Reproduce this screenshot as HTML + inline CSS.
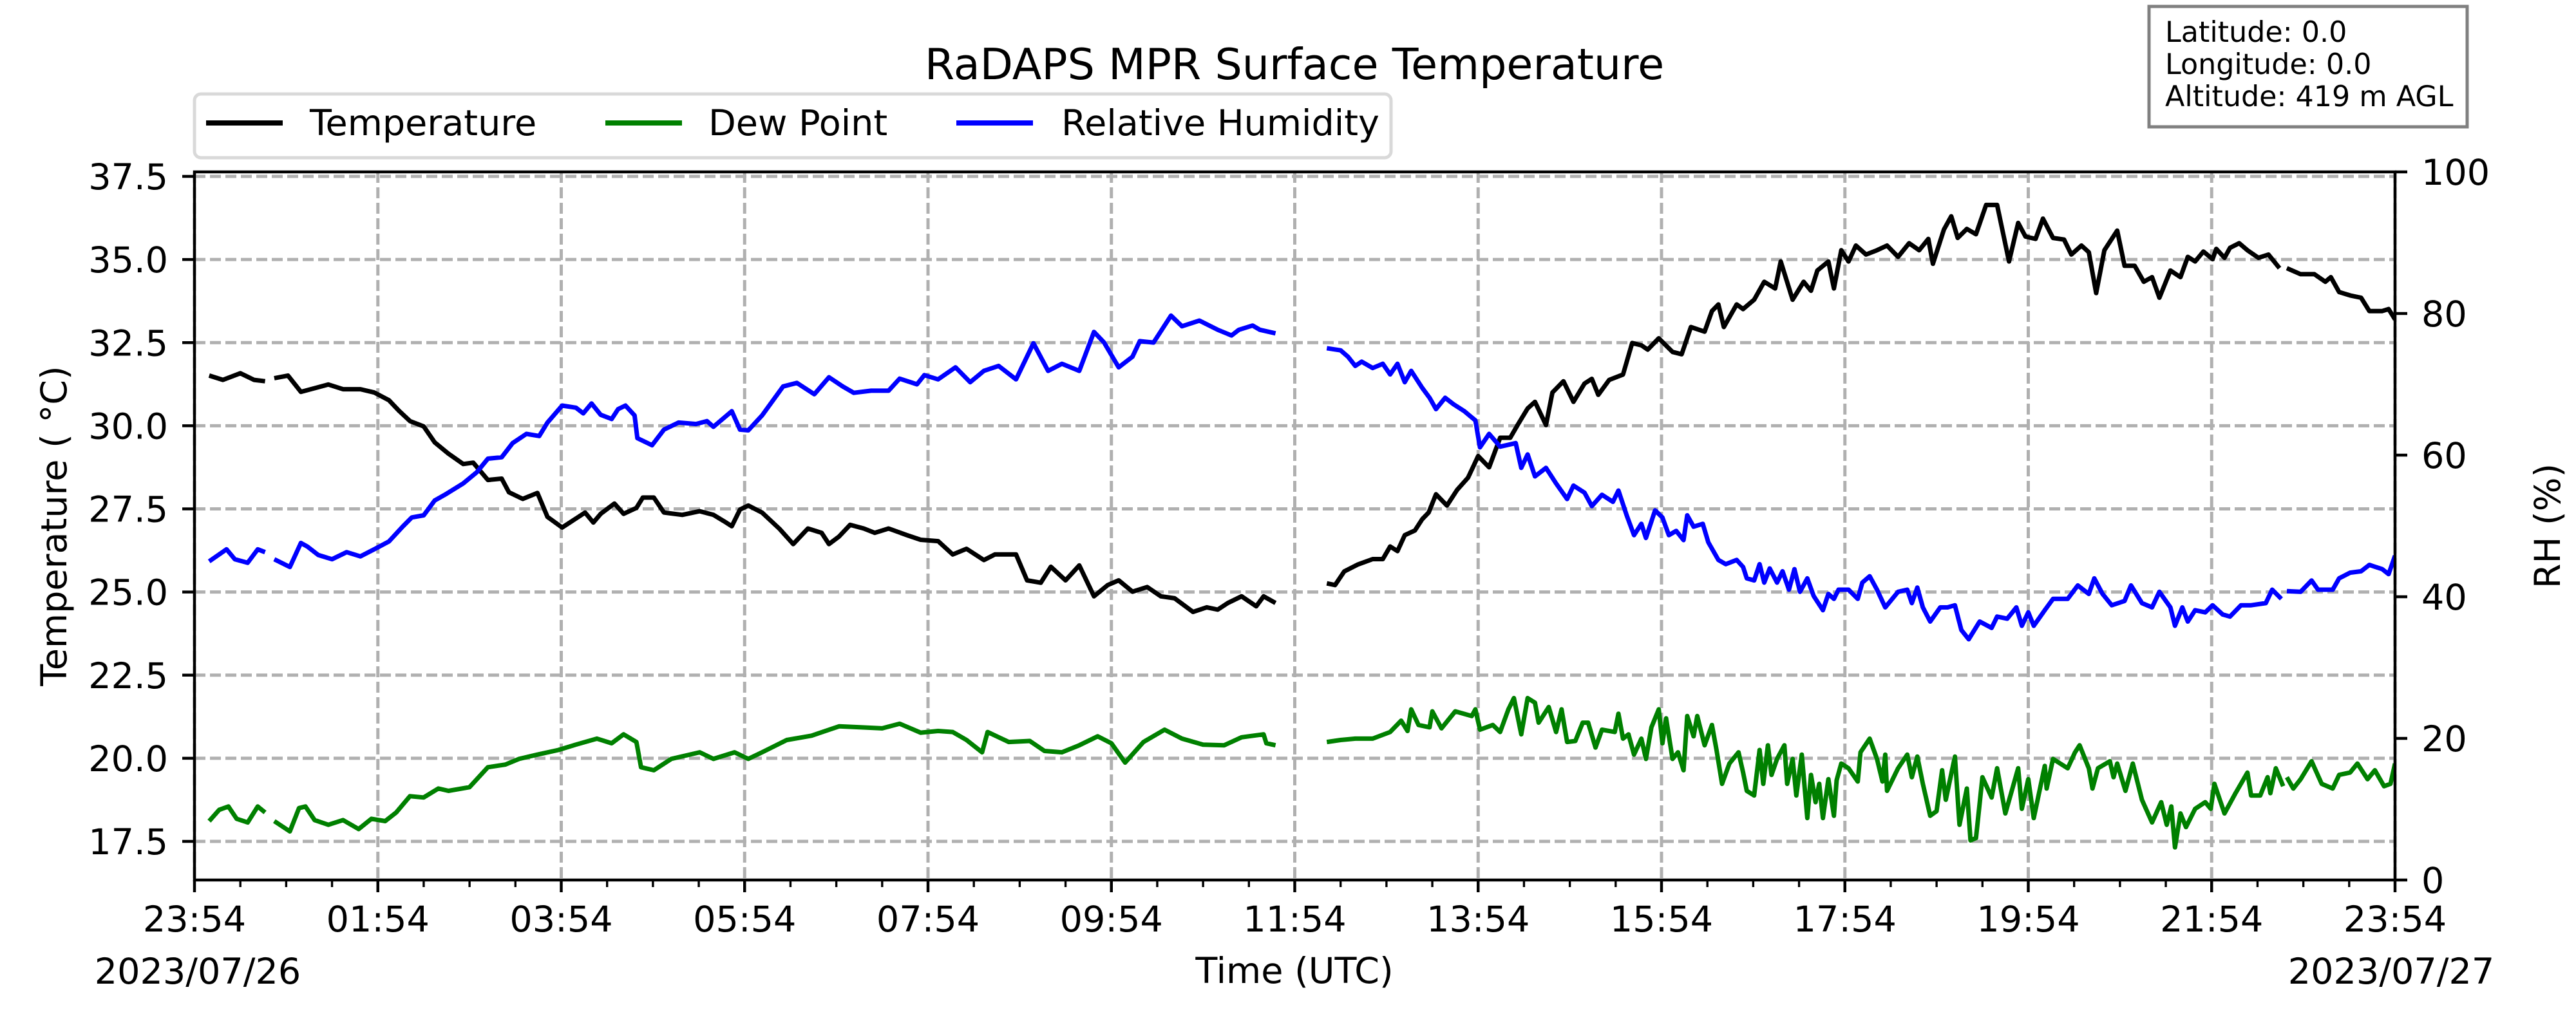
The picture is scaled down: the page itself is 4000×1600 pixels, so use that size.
<!DOCTYPE html>
<html><head><meta charset="utf-8"><title>RaDAPS MPR Surface Temperature</title>
<style>
html,body{margin:0;padding:0;background:#fff;}
svg{display:block;}
text{font-family:"DejaVu Sans","Liberation Sans",sans-serif;fill:#000;}
</style></head>
<body>
<svg id="chart" xmlns="http://www.w3.org/2000/svg" width="4000" height="1600" viewBox="0 0 4000 1600">
<rect x="0" y="0" width="4000" height="1600" fill="#fff"/>
<g id="grid"></g>
<g id="series"></g>
<g id="axes"></g>
<text x="2010" y="123" font-size="66.7" text-anchor="middle">RaDAPS MPR Surface Temperature</text>
<g>
  <rect x="302" y="146" width="1858" height="99" rx="10" fill="#fff" stroke="#d9d9d9" stroke-width="5"/>
  <g>
    <line x1="320" y1="191" x2="439" y2="191" stroke="#000" stroke-width="8"/>
    <text x="481" y="210" font-size="55.6">Temperature</text>
  </g>
  <g>
    <line x1="940" y1="191" x2="1059" y2="191" stroke="#008000" stroke-width="8"/>
    <text x="1100" y="210" font-size="55.6">Dew Point</text>
  </g>
  <g>
    <line x1="1485" y1="191" x2="1604" y2="191" stroke="#0000ff" stroke-width="8"/>
    <text x="1648" y="210" font-size="55.6">Relative Humidity</text>
  </g>
</g>
<g>
  <rect x="3337" y="10" width="494" height="187" fill="#fff" stroke="#808080" stroke-width="5"/>
  <text x="3362" y="65" font-size="44.4">Latitude: 0.0</text>
  <text x="3362" y="115" font-size="44.4">Longitude: 0.0</text>
  <text x="3362" y="165" font-size="44.4">Altitude: 419 m AGL</text>
</g>
<text transform="translate(103,817) rotate(-90)" font-size="55.6" text-anchor="middle">Temperature ( °C)</text>
<text transform="translate(3975,817) rotate(-90)" font-size="55.6" text-anchor="middle">RH (%)</text>
<text x="2010" y="1527" font-size="55.6" text-anchor="middle">Time (UTC)</text>
<text x="307" y="1528" font-size="55.6" text-anchor="middle">2023/07/26</text>
<text x="3713" y="1528" font-size="55.6" text-anchor="middle">2023/07/27</text>
</svg>
<script>
// ---- data (hours since 23:54 UTC 2023/07/26; null = data gap) ----
const tempTimes = [0.16,0.31,0.50,0.65,0.77,null,0.87,1.02,1.16,1.35,1.46,1.62,1.81,1.96,2.12,2.23,2.35,2.50,2.62,2.77,2.93,3.04,3.20,3.35,3.43,3.58,3.74,3.85,4.01,4.16,4.26,4.35,4.43,4.58,4.68,4.82,4.89,5.01,5.12,5.32,5.51,5.66,5.78,5.86,5.95,6.04,
6.19,6.38,6.53,6.69,6.84,6.92,7.03,7.15,7.30,7.42,7.57,7.77,7.92,8.11,8.27,8.42,8.61,8.73,8.96,9.08,9.23,9.34,9.50,9.65,9.81,9.96,10.08,10.23,10.39,10.54,10.69,10.89,11.04,11.16,11.27,11.42,11.58,11.66,11.79,null,
12.35,12.44,12.54,12.69,12.85,12.96,13.04,13.12,13.20,13.31,13.39,13.46,13.54,13.66,13.77,13.89,14.00,14.12,14.24,14.35,14.43,14.54,14.62,14.74,14.81,14.93,15.04,15.16,15.24,15.31,15.43,15.58,15.68,15.78,15.85,15.97,16.12,16.22,16.32,16.47,16.55,16.62,16.68,16.82,16.89,17.01,17.12,17.24,17.30,17.43,17.55,17.63,17.70,17.82,17.88,17.96,
18.04,18.12,18.23,18.35,18.46,18.58,18.70,18.81,18.91,18.96,19.08,19.16,19.23,19.33,19.43,19.54,19.66,19.79,19.89,19.97,20.08,20.16,20.27,20.39,20.47,20.58,20.66,20.74,20.83,20.97,21.05,21.16,21.26,21.35,21.43,21.55,21.66,21.74,21.82,21.91,22.01,22.05,22.14,22.20,22.30,22.39,22.51,22.62,22.74,null,22.82,22.97,23.12,23.24,23.30,23.39,23.51,23.63,23.72,23.86,23.93,24.00];
const tempValues = [31.51,31.38,31.58,31.38,31.34,null,31.43,31.51,31.02,31.16,31.24,31.10,31.10,31.00,30.77,30.45,30.14,29.98,29.50,29.16,28.85,28.89,28.37,28.41,28.00,27.80,27.98,27.26,26.94,27.21,27.39,27.09,27.35,27.66,27.35,27.53,27.84,27.84,27.39,27.32,27.43,27.32,27.12,26.98,27.48,27.60,
27.39,26.90,26.44,26.91,26.78,26.44,26.67,27.02,26.91,26.78,26.91,26.71,26.57,26.53,26.13,26.30,25.96,26.13,26.13,25.35,25.28,25.76,25.35,25.80,24.87,25.21,25.35,25.01,25.15,24.87,24.81,24.40,24.54,24.47,24.67,24.87,24.57,24.87,24.67,null,
25.26,25.21,25.62,25.83,25.99,25.99,26.37,26.23,26.71,26.85,27.19,27.39,27.94,27.60,28.07,28.44,29.09,28.75,29.64,29.64,30.02,30.52,30.72,30.02,31.00,31.34,30.72,31.27,31.41,30.93,31.38,31.54,32.49,32.42,32.29,32.63,32.22,32.15,32.97,32.83,33.45,33.65,32.97,33.65,33.51,33.79,34.33,34.13,34.94,33.79,34.33,34.06,34.67,34.94,34.13,35.28,
34.94,35.42,35.15,35.28,35.42,35.08,35.49,35.28,35.62,34.87,35.90,36.30,35.65,35.92,35.76,36.64,36.64,34.94,36.10,35.69,35.62,36.23,35.65,35.60,35.15,35.42,35.22,33.99,35.28,35.87,34.81,34.81,34.33,34.47,33.85,34.67,34.47,35.08,34.94,35.24,35.01,35.32,35.05,35.35,35.49,35.28,35.05,35.15,34.74,null,34.74,34.56,34.56,34.33,34.47,34.02,33.92,33.85,33.45,33.45,33.51,33.20];

const dewTimes = [0.16,0.27,0.37,0.46,0.58,0.69,0.77,null,0.87,1.04,1.14,1.21,1.31,1.46,1.62,1.79,1.93,2.08,2.20,2.35,2.50,2.66,2.77,3.00,3.20,3.39,3.54,3.74,3.97,4.16,4.39,4.55,4.68,4.82,4.87,5.01,5.20,5.51,5.66,5.89,6.04,
6.19,6.46,6.73,7.03,7.26,7.50,7.69,7.92,8.11,8.27,8.42,8.59,8.65,8.88,9.11,9.27,9.46,9.65,9.85,10.00,10.15,10.35,10.58,10.77,11.00,11.23,11.42,11.66,11.69,11.79,null,
12.35,12.50,12.66,12.85,13.04,13.16,13.23,13.27,13.35,13.47,13.50,13.60,13.75,13.93,13.97,14.02,14.16,14.24,14.33,14.39,14.47,14.54,14.62,14.66,14.77,14.85,14.91,14.97,15.06,15.14,15.20,15.28,15.35,15.49,15.53,15.58,15.64,15.70,15.78,15.83,15.89,15.97,16.01,16.05,16.12,16.18,16.24,16.28,16.35,16.39,16.47,16.55,16.60,16.66,16.74,16.84,16.89,16.93,17.01,17.07,17.11,17.16,17.20,17.26,17.34,17.37,17.43,17.47,17.53,17.59,17.63,17.68,17.72,17.76,17.82,17.88,17.91,17.96,
18.04,18.14,18.17,18.27,18.35,18.41,18.44,18.46,18.58,18.68,18.73,18.79,18.85,18.93,19.00,19.06,19.10,19.20,19.25,19.33,19.37,19.43,19.50,19.60,19.66,19.75,19.89,19.93,20.00,20.06,20.18,20.20,20.27,20.43,20.51,20.56,20.66,20.70,20.76,20.89,20.93,20.97,21.06,21.14,21.24,21.35,21.45,21.51,21.56,21.60,21.66,21.72,21.82,21.93,21.99,22.03,22.14,22.26,22.39,22.43,22.53,22.61,22.64,22.70,22.78,null,22.82,22.89,22.97,23.09,23.20,23.32,23.39,23.51,23.59,23.70,23.78,23.88,23.95,24.00];
const dewValues = [18.11,18.45,18.55,18.18,18.07,18.55,18.37,null,18.11,17.80,18.50,18.55,18.14,18.00,18.14,17.87,18.18,18.11,18.37,18.86,18.82,19.09,19.02,19.13,19.73,19.81,19.98,20.11,20.25,20.41,20.59,20.45,20.72,20.49,19.73,19.64,19.98,20.18,19.98,20.18,19.98,
20.18,20.55,20.68,20.96,20.93,20.90,21.04,20.77,20.82,20.79,20.55,20.18,20.79,20.49,20.52,20.22,20.18,20.39,20.66,20.45,19.87,20.49,20.86,20.59,20.41,20.39,20.63,20.72,20.45,20.39,null,
20.49,20.55,20.59,20.59,20.79,21.13,20.82,21.47,21.00,20.93,21.41,20.90,21.41,21.27,21.47,20.86,21.00,20.79,21.47,21.81,20.72,21.81,21.67,21.07,21.54,20.79,21.47,20.49,20.52,21.07,21.07,20.32,20.86,20.79,21.34,20.59,20.72,20.11,20.59,19.98,20.93,21.47,20.45,21.20,19.98,20.18,19.64,21.27,20.66,21.27,20.39,21.00,20.25,19.23,19.84,20.18,19.57,19.02,18.88,20.25,19.23,20.39,19.50,19.98,20.39,19.23,19.98,18.88,20.11,18.20,19.50,18.68,19.23,18.20,19.37,18.27,19.34,19.84,
19.70,19.30,20.18,20.59,19.98,19.30,20.11,19.02,19.70,20.11,19.43,20.05,19.23,18.27,18.41,19.64,18.75,20.05,18.00,19.09,17.53,17.60,19.43,18.82,19.70,18.34,19.70,18.48,19.37,18.20,19.77,19.09,19.98,19.70,20.18,20.39,19.70,19.09,19.70,19.91,19.43,19.84,19.02,19.84,18.75,18.07,18.68,18.00,18.55,17.32,18.34,17.93,18.48,18.68,18.48,19.23,18.34,18.95,19.57,18.88,18.88,19.43,18.95,19.70,19.16,null,19.43,19.09,19.37,19.91,19.23,19.09,19.50,19.57,19.84,19.37,19.64,19.16,19.23,19.84];

const rhTimes = [0.16,0.35,0.44,0.58,0.69,0.77,null,0.87,1.04,1.16,1.23,1.35,1.50,1.66,1.81,1.96,2.12,2.27,2.37,2.50,2.62,2.73,2.93,3.08,3.20,3.35,3.47,3.62,3.76,3.85,4.01,4.16,4.24,4.33,4.43,4.55,4.62,4.70,4.80,4.83,4.99,5.12,5.28,5.47,5.59,5.66,5.86,5.95,6.04,
6.19,6.42,6.57,6.76,6.92,7.07,7.19,7.38,7.57,7.69,7.88,7.96,8.11,8.30,8.46,8.61,8.77,8.96,9.15,9.31,9.46,9.65,9.81,9.92,10.08,10.23,10.31,10.46,10.65,10.77,10.96,11.16,11.31,11.39,11.54,11.62,11.79,null,
12.35,12.50,12.58,12.66,12.73,12.85,12.96,13.04,13.12,13.20,13.27,13.39,13.47,13.54,13.64,13.73,13.85,13.97,14.02,14.12,14.24,14.31,14.41,14.47,14.54,14.62,14.74,14.85,14.97,15.04,15.16,15.24,15.35,15.47,15.53,15.62,15.70,15.78,15.83,15.93,16.01,16.08,16.16,16.24,16.28,16.35,16.45,16.51,16.62,16.70,16.82,16.89,16.93,17.01,17.07,17.12,17.18,17.26,17.32,17.39,17.45,17.51,17.59,17.66,17.76,17.82,17.88,17.93,
18.04,18.14,18.19,18.27,18.35,18.44,18.58,18.68,18.73,18.79,18.85,18.93,19.04,19.12,19.20,19.27,19.35,19.47,19.60,19.66,19.77,19.87,19.93,20.00,20.06,20.18,20.27,20.43,20.54,20.66,20.72,20.81,20.91,21.05,21.12,21.24,21.35,21.43,21.55,21.60,21.68,21.74,21.82,21.93,22.01,22.12,22.20,22.32,22.43,22.59,22.66,22.76,null,22.82,22.97,23.09,23.16,23.32,23.39,23.51,23.63,23.72,23.86,23.93,24.00];
const rhValues = [45.0,46.7,45.3,44.8,46.7,46.3,null,45.3,44.2,47.6,47.1,45.9,45.3,46.3,45.7,46.7,47.8,49.9,51.2,51.5,53.6,54.4,56.0,57.6,59.5,59.7,61.7,63.0,62.7,64.6,67.0,66.7,65.9,67.3,65.7,65.1,66.5,67.0,65.6,62.4,61.4,63.6,64.6,64.4,64.8,64.0,66.2,63.6,63.5,
65.6,69.7,70.2,68.6,71.0,69.7,68.8,69.1,69.1,70.8,70.0,71.3,70.7,72.4,70.3,71.9,72.6,70.7,75.8,71.9,72.9,71.9,77.4,75.9,72.4,73.9,76.1,75.9,79.7,78.2,79.0,77.7,76.9,77.7,78.3,77.7,77.2,null,
75.1,74.8,73.9,72.6,73.2,72.3,72.9,71.4,72.9,70.3,71.9,69.5,68.1,66.5,68.1,67.2,66.2,64.9,61.1,63.0,61.2,61.4,61.7,58.2,60.1,57.0,58.2,56.0,53.8,55.7,54.7,52.8,54.4,53.4,55.0,51.5,48.7,50.3,48.3,52.2,51.2,48.7,49.3,48.0,51.5,49.9,50.3,47.7,45.2,44.6,45.2,44.2,42.6,42.3,44.6,42.0,44.0,42.0,43.6,41.0,43.9,40.7,42.6,40.1,38.1,40.4,39.7,41.0,
41.0,39.7,42.0,42.9,41.0,38.5,40.7,41.0,39.1,41.3,38.5,36.5,38.5,38.5,38.8,35.3,34.0,36.5,35.6,37.2,36.9,38.5,35.9,37.8,35.9,38.1,39.7,39.7,41.6,40.4,42.6,40.4,38.8,39.4,41.6,39.1,38.5,40.7,38.5,35.9,38.5,36.5,38.1,37.8,38.8,37.5,37.2,38.8,38.8,39.1,41.0,39.7,null,40.8,40.7,42.3,41.0,41.0,42.6,43.4,43.6,44.5,43.9,43.2,45.8];

const tempTicks = [17.5,20.0,22.5,25.0,27.5,30.0,32.5,35.0,37.5];
const rhTicks = [0,20,40,60,80,100];
const timeTickHours = [0,2,4,6,8,10,12,14,16,18,20,22,24];
const timeTickLabels = ["23:54","01:54","03:54","05:54","07:54","09:54","11:54","13:54","15:54","17:54","19:54","21:54","23:54"];

// ---- axis functions ----
const PL = 302, PR = 3719, PT = 267, PB = 1367;
const xScale = h => PL + h * (PR - PL) / 24;
const yTemp = v => 274 + (37.5 - v) * 51.65;
const yRH = v => PB - v * (PB - PT) / 100;
const NS = "http://www.w3.org/2000/svg";
function mk(tag, attrs, parent) {
  const el = document.createElementNS(NS, tag);
  for (const k in attrs) el.setAttribute(k, attrs[k]);
  parent.appendChild(el);
  return el;
}
const grid = document.getElementById('grid');
const axes = document.getElementById('axes');
const series = document.getElementById('series');

// grid
tempTicks.forEach(v => {
  const l = mk('line', {x1: PL, x2: PR, y1: yTemp(v), y2: yTemp(v), stroke: '#b0b0b0', 'stroke-width': 5, 'stroke-dasharray': '17 7'}, grid);
  
  
});
timeTickHours.forEach(h => {
  const l = mk('line', {x1: xScale(h), x2: xScale(h), y1: PT, y2: PB, stroke: '#b0b0b0', 'stroke-width': 5, 'stroke-dasharray': '17 7'}, grid);
  
  
});

// series
function pathFor(times, vals, yf) {
  let d = '', pen = false;
  for (let i = 0; i < times.length; i++) {
    if (times[i] === null || vals[i] === null) { pen = false; continue; }
    d += (pen ? 'L' : 'M') + xScale(times[i]).toFixed(1) + ' ' + yf(vals[i]).toFixed(1);
    pen = true;
  }
  return d;
}
const clip = mk('clipPath', {id: 'plotclip'}, series);
mk('rect', {x: PL, y: PT, width: PR - PL, height: PB - PT}, clip);
const pT = mk('path', {d: pathFor(tempTimes, tempValues, yTemp), fill: 'none', stroke: '#000', 'stroke-width': 7, 'stroke-linejoin': 'round', 'clip-path': 'url(#plotclip)'}, series);


const pD = mk('path', {d: pathFor(dewTimes, dewValues, yTemp), fill: 'none', stroke: '#008000', 'stroke-width': 7, 'stroke-linejoin': 'round', 'clip-path': 'url(#plotclip)'}, series);


const pR = mk('path', {d: pathFor(rhTimes, rhValues, yRH), fill: 'none', stroke: '#0000ff', 'stroke-width': 7, 'stroke-linejoin': 'round', 'clip-path': 'url(#plotclip)'}, series);



// spines
const frame = mk('rect', {x: PL, y: PT, width: PR - PL, height: PB - PT, fill: 'none', stroke: '#000', 'stroke-width': 4.5}, axes);



// left ticks
tempTicks.forEach(v => {
  const y = yTemp(v);
  const t = mk('line', {x1: PL - 19, x2: PL, y1: y, y2: y, stroke: '#000', 'stroke-width': 4.5}, axes);
  
  
  const tx = mk('text', {x: PL - 41, y: y + 20, 'font-size': 55.6, 'text-anchor': 'end'}, axes);
  tx.textContent = v.toFixed(1);
  
  
});
// right ticks
rhTicks.forEach(v => {
  const y = yRH(v);
  const t = mk('line', {x1: PR, x2: PR + 19, y1: y, y2: y, stroke: '#000', 'stroke-width': 4.5}, axes);
  
  
  const tx = mk('text', {x: PR + 41, y: y + 20, 'font-size': 55.6, 'text-anchor': 'start'}, axes);
  tx.textContent = String(v);
  
  
});
// x minor ticks
for (let h = 0; h <= 24.001; h += 0.5) {
  if (Math.abs(h - Math.round(h / 2) * 2) < 1e-6) continue;
  const m = mk('line', {x1: xScale(h), x2: xScale(h), y1: PB, y2: PB + 11, stroke: '#000', 'stroke-width': 3.4}, axes);
  
  
}
// x major ticks
timeTickHours.forEach((h, i) => {
  const x = xScale(h);
  const t = mk('line', {x1: x, x2: x, y1: PB, y2: PB + 19, stroke: '#000', 'stroke-width': 4.5}, axes);
  
  
  const tx = mk('text', {x: x, y: 1447, 'font-size': 55.6, 'text-anchor': 'middle'}, axes);
  tx.textContent = timeTickLabels[i];
  
  
});
</script>
</body></html>
